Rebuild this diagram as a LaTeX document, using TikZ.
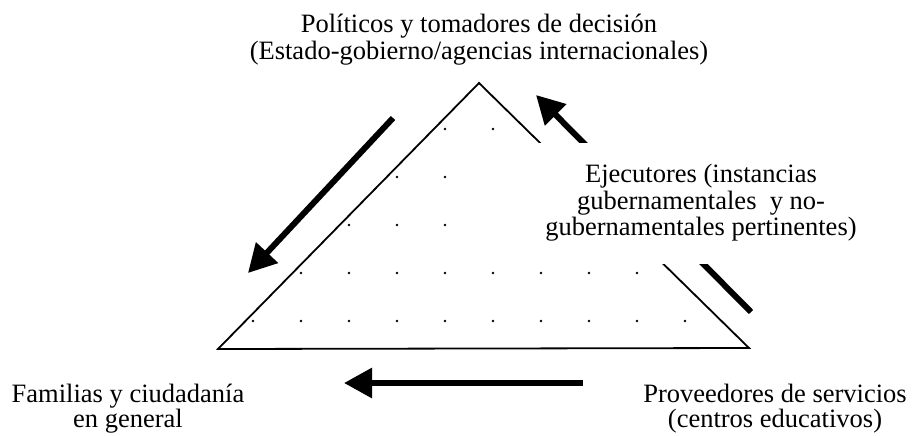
\documentclass[tikz,border=0pt]{standalone}
\usepackage{fontspec}
\setmainfont{Liberation Serif}
\usetikzlibrary{arrows.meta,positioning}

\begin{document}
\begin{tikzpicture}[x=0.5pt,y=-0.5pt,
  font=\fontsize{13.25}{12.5}\selectfont,
  lado/.style={line width=0.9pt, line join=miter},
  flecha/.style={line width=3pt, -{Triangle[length=14pt,width=14.5pt]}},
  etiqueta/.style={align=center, inner sep=0pt},
  punto/.style={fill=black},
]
\useasboundingbox (0,0) rectangle (912,435);

% triangulo
\coordinate (izq) at (218,349);
\coordinate (cima) at (479,83);
\coordinate (der) at (749,348);
\draw[lado] (izq) -- (cima) -- (der) -- cycle;

% trama de puntos
\foreach \y/\a/\b in {129/4/5,177/3/6,225/2/7,273/1/8,321/0/9}
  \foreach \i in {\a,...,\b}
    \fill[punto] (253+48*\i,\y) circle (0.7pt);

% flechas
\coordinate (bajaA) at (393,118);
\coordinate (bajaB) at (248,273);
\coordinate (subeA) at (751,312);
\coordinate (subeB) at (536,95);
\coordinate (baseA) at (583,383);
\coordinate (baseB) at (344,383);
\draw[flecha] (bajaA) -- (bajaB);
\draw[flecha] (subeA) -- (subeB);
\draw[flecha] (baseA) -- (baseB);

% textos
\node[etiqueta, anchor=base, font=\fontsize{13.25}{12}\selectfont] (politicos) at (479,59)
  {Políticos y tomadores de decisión\\(Estado-gobierno/agencias internacionales)};
\node[etiqueta, fill=white, minimum width=223pt, minimum height=60.5pt,
  font=\fontsize{13.25}{13.25}\selectfont] (ejecutores) at (701,203)
  {Ejecutores (instancias\\gubernamentales\ \ y no-\\gubernamentales pertinentes)};
\node[etiqueta, anchor=base] (familias) at (128,427)
  {Familias y ciudadanía\\en general};
\node[etiqueta, anchor=base] (proveedores) at (775,427)
  {Proveedores de servicios\\(centros educativos)};

\end{tikzpicture}
\end{document}
